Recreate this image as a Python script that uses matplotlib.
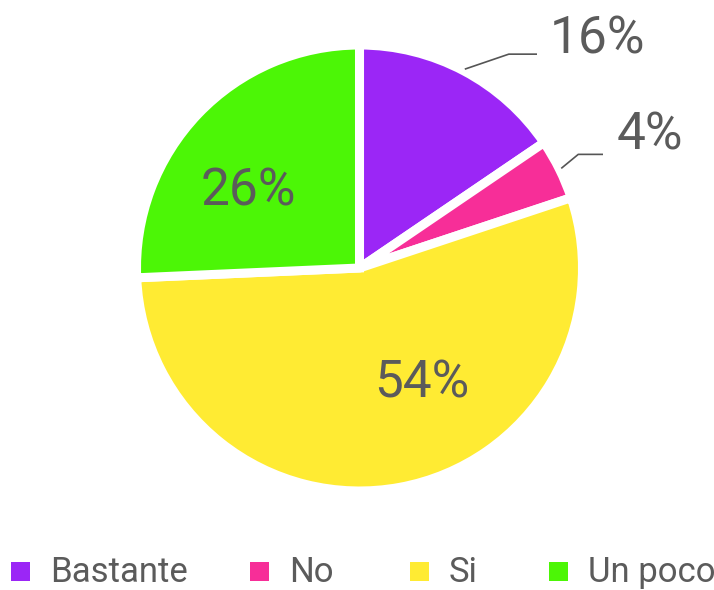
import matplotlib.pyplot as plt
import numpy as np
from matplotlib.patches import Rectangle

# survey answers (percent)
categories = ['Bastante', 'No', 'Si', 'Un poco']
values = [15.5, 4.4, 54.4, 25.7]
pct_labels = ['16%', '4%', '54%', '26%']
colors = ['#9B26F6', '#F72E98', '#FFEB33', '#4CF606']

text_color = '#5B5B5B'
plt.rcParams['font.family'] = ['Roboto', 'DejaVu Sans']

fig = plt.figure(figsize=(7.14, 5.90), dpi=100)
ax = fig.add_axes([0, 0, 1, 1])

cx, cy, R = 359.5, 322, 223
wedges, _ = ax.pie(values, colors=colors, startangle=90, counterclock=False,
                   center=(cx, cy), radius=R, frame=True,
                   wedgeprops=dict(edgecolor='white', linewidth=6.5))
ax.set_xlim(0, 714)
ax.set_ylim(0, 590)
ax.set_aspect('equal')
ax.axis('off')

fs = 37
# labels inside the big slices
ax.text(422, 193, pct_labels[2], fontsize=fs, color=text_color,
        ha='center', va='baseline')
ax.text(248, 385, pct_labels[3], fontsize=fs, color=text_color,
        ha='center', va='baseline')

# outside labels with leader lines
outside = {0: ((44, 15), 537, (598, 537)), 1: ((17, 14), 603, (650, 440))}
for i, (elbow, xend, (tx, ty)) in outside.items():
    w = wedges[i]
    mid = np.deg2rad((w.theta1 + w.theta2) / 2)
    x0 = cx + 225 * np.cos(mid)
    y0 = cy + 225 * np.sin(mid)
    x1, y1 = x0 + elbow[0], y0 + elbow[1]
    ax.plot([x0, x1, xend], [y0, y1, y1], color='#555555', lw=1.2,
            solid_capstyle='butt')
    ax.text(tx, ty, pct_labels[i], fontsize=fs, color=text_color,
            ha='center', va='baseline')

# legend along the bottom
legend_x = [11, 250, 410, 549]
for x, name, c in zip(legend_x, categories, colors):
    ax.add_patch(Rectangle((x, 9), 19, 19, color=c, lw=0))
    ax.text(x + 39, 8, name, fontsize=25, color=text_color,
            ha='left', va='baseline')

fig.savefig('out.png', dpi=100)
